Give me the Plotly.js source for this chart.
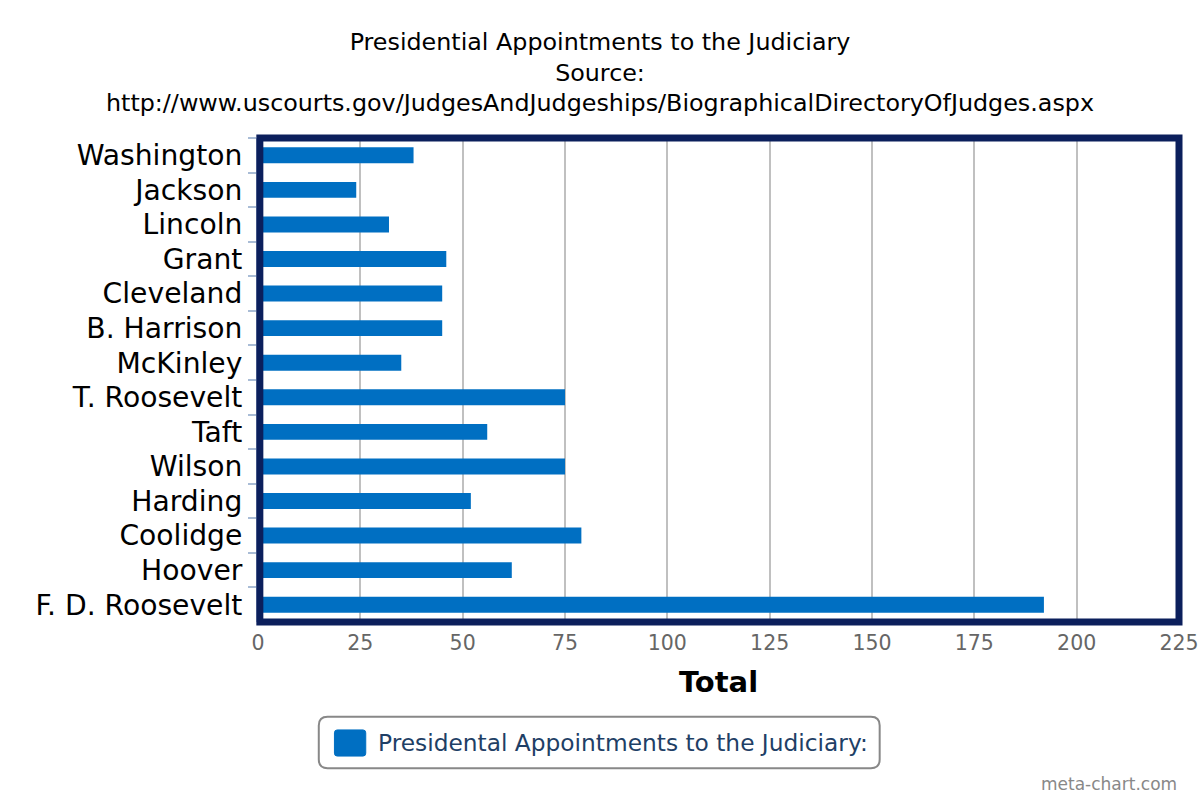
<!DOCTYPE html>
<html>
<head>
<meta charset="utf-8">
<script src="https://cdn.plot.ly/plotly-3.0.1.min.js"></script>
<style>html,body{margin:0;padding:0;background:#fff;}#chart{width:1200px;height:800px;}</style>
</head>
<body>
<div id="chart"></div>
<script>
const presidents = ["Washington","Jackson","Lincoln","Grant","Cleveland","B. Harrison","McKinley","T. Roosevelt","Taft","Wilson","Harding","Coolidge","Hoover","F. D. Roosevelt"];
const appointments = [38, 24, 32, 46, 45, 45, 35, 75, 56, 75, 52, 79, 62, 192];
const xTicks = [0, 25, 50, 75, 100, 125, 150, 175, 200, 225];
const seriesName = "Presidental Appointments to the Judiciary:";
const titleLines = ["Presidential Appointments to the Judiciary", "Source:", "http://www.uscourts.gov/JudgesAndJudgeships/BiographicalDirectoryOfJudges.aspx"];

const FONT = "DejaVu Sans, Verdana, sans-serif";

function roundedRect(x0, y0, x1, y1, rx, ry) {
  return `M ${x0 + rx},${y0} L ${x1 - rx},${y0} Q ${x1},${y0} ${x1},${y0 + ry} ` +
         `L ${x1},${y1 - ry} Q ${x1},${y1} ${x1 - rx},${y1} L ${x0 + rx},${y1} ` +
         `Q ${x0},${y1} ${x0},${y1 - ry} L ${x0},${y0 + ry} Q ${x0},${y0} ${x0 + rx},${y0} Z`;
}

const trace = {
  type: "bar",
  orientation: "h",
  x: appointments,
  y: presidents,
  name: seriesName,
  marker: {color: "#006fc2"},
  width: 0.46,
  showlegend: false,
  hoverinfo: "x+y"
};

const layout = {
  width: 1200, height: 800,
  paper_bgcolor: "#fff", plot_bgcolor: "#fff",
  margin: {l: 258, r: 21, t: 138, b: 178, pad: 0},
  font: {family: FONT, color: "#000"},
  title: {
    text: titleLines.join("<br>"),
    font: {family: FONT, size: 23.8, color: "#000"},
    x: 0.5, xanchor: "center", y: 0.938, yanchor: "top"
  },
  xaxis: {
    range: [0, 225],
    tickvals: xTicks,
    ticktext: xTicks.map(String),
    showgrid: true, gridcolor: "#c0c0c0", gridwidth: 2,
    zeroline: false,
    showline: false,
    ticks: "",
    tickfont: {family: FONT, size: 20.5, color: "#666"},
    ticklabelstandoff: 6,
    title: {text: "<b>Total</b>", font: {family: FONT, size: 29, color: "#000"}, standoff: 18},
    fixedrange: true
  },
  yaxis: {
    type: "category",
    autorange: "reversed",
    showgrid: false,
    zeroline: false,
    showline: true, linecolor: "#a9bcd6", linewidth: 2,
    ticks: "outside", tickson: "boundaries", ticklen: 8, tickcolor: "#a9bcd6", tickwidth: 2,
    tickfont: {family: FONT, size: 28.2, color: "#000"},
    ticklabelstandoff: 8,
    fixedrange: true
  },
  bargap: 0.54,
  shapes: [
    {type: "rect", xref: "paper", yref: "paper", x0: 0.002, x1: 1.0, y0: 0, y1: 1,
     line: {color: "#0b1f5c", width: 7}, fillcolor: "rgba(0,0,0,0)", layer: "above"},
    {type: "path", xref: "paper", yref: "paper",
     path: roundedRect(0.066, -0.302, 0.675, -0.196, 0.0095, 0.018),
     line: {color: "#888", width: 2}, fillcolor: "rgba(0,0,0,0)", layer: "above"},
    {type: "path", xref: "paper", yref: "paper",
     path: roundedRect(0.083, -0.277, 0.117, -0.223, 0.003, 0.006),
     line: {color: "#006fc2", width: 1}, fillcolor: "#006fc2", layer: "above"}
  ],
  annotations: [
    {xref: "paper", yref: "paper", x: 0.128, y: -0.2495, xanchor: "left", yanchor: "middle",
     text: seriesName, showarrow: false, font: {family: FONT, size: 23.3, color: "#1f3f66"}},
    {xref: "paper", yref: "paper", x: 1.0, y: -0.335, xanchor: "right", yanchor: "middle",
     text: "meta-chart.com", showarrow: false, font: {family: FONT, size: 17, color: "#888"}}
  ]
};

Plotly.newPlot("chart", [trace], layout, {displayModeBar: false, staticPlot: true});
</script>
</body>
</html>
